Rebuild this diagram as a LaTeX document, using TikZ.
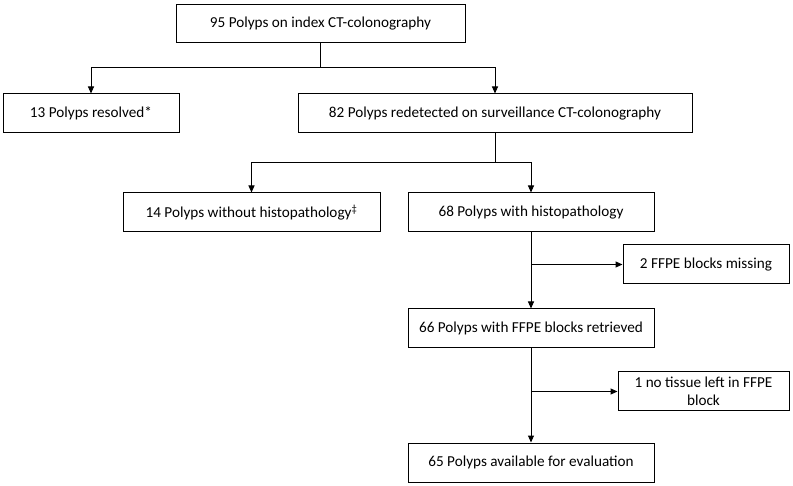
\documentclass[tikz,border=0pt]{standalone}
\usepackage{fontspec}
\setmainfont{Carlito}
\usetikzlibrary{arrows.meta}
\tikzset{
    every node/.style={rectangle, draw, line width=1pt, inner sep=2pt,
    	align=center, minimum height=39pt, font=\fontsize{15.2}{18.5}\selectfont}
}
\tikzset{
    every edge/.append style={line width=1pt, -{Triangle[length=7pt,width=6pt]}}
}

\begin{document}
\begin{tikzpicture}[x=1pt, y=-1pt, line width=1pt,
	elbow/.style={to path={-| (\tikztotarget)}}]
	\useasboundingbox (0,0) rectangle (793,486);
	\node (index) [minimum width=289pt, minimum height=38pt] at (320.5, 24) {95 Polyps on index CT-colonography};
	\node (resolved) [minimum width=176pt] at (91, 113.5) {13 Polyps resolved*};
	\node (redet) [minimum width=394pt] at (495, 113.5) {82 Polyps redetected on surveillance CT-colonography};
	\node (nohisto) [minimum width=257pt] at (251.5, 212.5) {14 Polyps without histopathology\textsuperscript{‡}};
	\node (histo) [minimum width=246pt] at (531, 212.5) {68 Polyps with histopathology};
	\node (missing) [minimum width=166pt] at (706, 264.5) {2 FFPE blocks missing};
	\node (retr) [minimum width=246pt] at (531, 328.5) {66 Polyps with FFPE blocks retrieved};
	\node (notissue) [minimum width=171pt] at (703.5, 391.5) {1 no tissue left in FFPE\\block};
	\node (eval) [minimum width=246pt] at (531, 462.5) {65 Polyps available for evaluation};
	
	\coordinate (s1) at (320.5, 68);
	\coordinate (s2) at (495, 163);
	\coordinate (s3) at (531, 264.5);
	\coordinate (s4) at (531, 391.5);
	
	\draw (index) -- (s1); \draw (s1) edge [elbow] (resolved);
	\draw (s1) edge [elbow] (redet);
	\draw (redet) -- (s2); \draw (s2) edge [elbow] (nohisto);
	\draw (s2) edge [elbow] (histo);
	
	\draw (histo) edge (retr); \draw (s3) edge (missing);
	\draw (retr) edge (eval); \draw (s4) edge (notissue);
\end{tikzpicture}
\end{document}
